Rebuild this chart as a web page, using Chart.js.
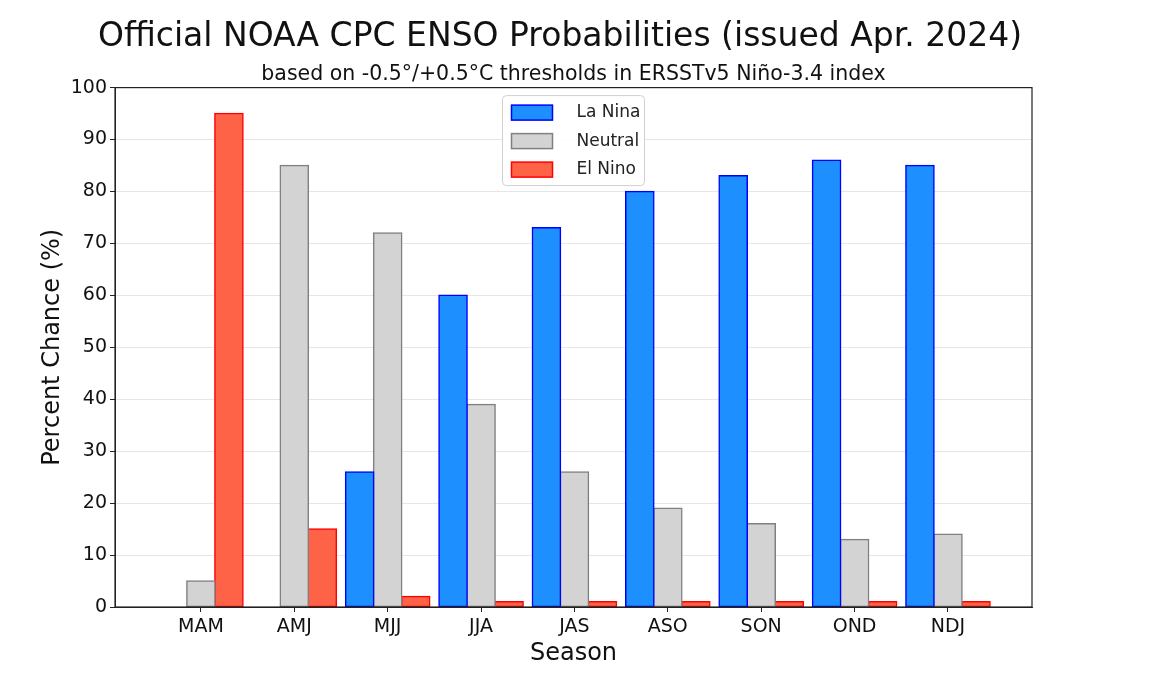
<!DOCTYPE html>
<html>
<head>
<meta charset="utf-8">
<title>ENSO Probabilities</title>
<script src="https://cdn.jsdelivr.net/npm/chart.js@4.4.1/dist/chart.umd.min.js"></script>
<style>
  body { margin: 0; background: #fff; }
  #wrap { width: 1173px; height: 697px; }
</style>
</head>
<body>
<div id="wrap"><canvas id="enso" width="1173" height="697"></canvas></div>
<script>
// seasons and probabilities (%)
const seasons = ['MAM', 'AMJ', 'MJJ', 'JJA', 'JAS', 'ASO', 'SON', 'OND', 'NDJ'];
const laNina  = [0, 0, 26, 60, 73, 80, 83, 86, 85];
const neutral = [5, 85, 72, 39, 26, 19, 16, 13, 14];
const elNino  = [95, 15, 2, 1, 1, 1, 1, 1, 1];
const yTicks  = [0, 10, 20, 30, 40, 50, 60, 70, 80, 90, 100];

const FONT = "'DejaVu Sans', sans-serif";
const SUBTITLE = 'based on -0.5°/+0.5°C thresholds in ERSSTv5 Niño-3.4 index';

function toPoints(arr) {
  return arr.map((v, i) => ({ x: i, y: v }));
}

// frame round the plot area + subtitle centred over the axes
const frame = {
  id: 'frame',
  afterDatasetsDraw(chart) {
    const a = chart.chartArea, ctx = chart.ctx;
    ctx.save();
    ctx.strokeStyle = '#222';
    ctx.lineWidth = 1.2;
    ctx.strokeRect(a.left, a.top, a.right - a.left, a.bottom - a.top);
    ctx.fillStyle = '#111';
    ctx.font = '20.5px ' + FONT;
    ctx.textAlign = 'center';
    ctx.textBaseline = 'middle';
    ctx.fillText(SUBTITLE, (a.left + a.right) / 2, a.top - 13);
    ctx.restore();
  }
};

// boxed legend inside the plot, centred at the top
const boxLegend = {
  id: 'boxLegend',
  afterDraw(chart) {
    const a = chart.chartArea, ctx = chart.ctx;
    const w = 142, h = 90;
    const x0 = (a.left + a.right) / 2 - w / 2;
    const y0 = a.top + 8;
    ctx.save();
    ctx.fillStyle = 'rgba(255,255,255,0.85)';
    ctx.strokeStyle = '#d0d0d0';
    ctx.lineWidth = 1;
    ctx.beginPath();
    ctx.roundRect(x0, y0, w, h, 4);
    ctx.fill();
    ctx.stroke();
    ctx.font = '17px ' + FONT;
    ctx.textBaseline = 'middle';
    chart.data.datasets.forEach((ds, i) => {
      const cy = y0 + 17 + i * 28.5;
      ctx.fillStyle = ds.backgroundColor;
      ctx.strokeStyle = ds.borderColor;
      ctx.lineWidth = 1.5;
      ctx.fillRect(x0 + 9, cy - 7.5, 41, 15);
      ctx.strokeRect(x0 + 9, cy - 7.5, 41, 15);
      ctx.fillStyle = '#222';
      ctx.fillText(ds.label, x0 + 74, cy);
    });
    ctx.restore();
  }
};

new Chart(document.getElementById('enso'), {
  type: 'bar',
  data: {
    datasets: [
      { label: 'La Nina', data: toPoints(laNina), backgroundColor: '#1E8FFF', borderColor: '#0000FF' },
      { label: 'Neutral', data: toPoints(neutral), backgroundColor: '#D3D3D3', borderColor: '#808080' },
      { label: 'El Nino', data: toPoints(elNino), backgroundColor: '#FF6347', borderColor: '#FF0000' }
    ]
  },
  options: {
    responsive: false,
    animation: false,
    layout: { padding: { top: 0, right: 53, bottom: 0, left: 0 } },
    datasets: {
      bar: { categoryPercentage: 0.9, barPercentage: 1.0, borderWidth: 1.5, borderSkipped: false, inflateAmount: 0.8 }
    },
    scales: {
      x: {
        type: 'linear',
        min: -0.92,
        max: 8.9,
        offset: false,
        grid: { drawOnChartArea: false, offset: false, color: '#222', tickLength: 5 },
        border: { color: '#222' },
        ticks: {
          stepSize: 1,
          includeBounds: false,
          autoSkip: false,
          maxRotation: 0,
          color: '#111',
          padding: 4,
          font: { family: FONT, size: 19 },
          callback: v => Number.isInteger(v) ? seasons[v] : ''
        },
        title: { display: true, text: 'Season', color: '#111', font: { family: FONT, size: 24 }, padding: { top: 0, bottom: 29 } },
        afterFit: s => { s.height = 90; }
      },
      y: {
        min: 0,
        max: 100,
        afterBuildTicks: s => { s.ticks = yTicks.map(v => ({ value: v })); },
        grid: { color: '#e6e6e6', tickColor: '#222', tickLength: 5 },
        border: { color: '#222' },
        ticks: { color: '#111', padding: 3, font: { family: FONT, size: 19 } },
        title: { display: true, text: 'Percent Chance (%)', color: '#111', font: { family: FONT, size: 24 }, padding: { top: 38, bottom: 0 } },
        afterFit: s => { s.width = 115; }
      },
      // empty axis that only holds the right-hand margin
      spare: {
        type: 'linear',
        position: 'right',
        display: true,
        grid: { display: false },
        border: { display: false },
        ticks: { display: false },
        afterFit: s => { s.width = 88; }
      }
    },
    plugins: {
      legend: { display: false },
      tooltip: { enabled: false },
      title: {
        display: true,
        text: 'Official NOAA CPC ENSO Probabilities (issued Apr. 2024)',
        color: '#111',
        font: { family: FONT, size: 33, weight: 'normal' },
        padding: { top: 18, bottom: 30 }
      }
    }
  },
  plugins: [frame, boxLegend]
});
</script>
</body>
</html>
